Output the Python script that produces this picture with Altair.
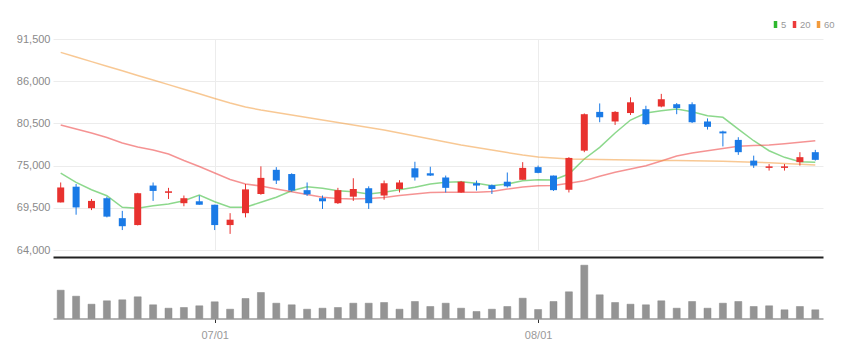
import altair as alt
import pandas as pd

# ---- data ----
idx = list(range(50))
opens = [70200, 72250, 69450, 70750, 68150, 67250, 72400, 71450, 70100, 70350,
         69900, 67250, 68800, 71300, 74450, 73900, 71800, 70750, 70100, 70950,
         72050, 71100, 71950, 74650, 74000, 73450, 71500, 72700, 72450, 72900,
         73150, 74800, 73700, 71850, 76950, 82000, 80750, 81850, 82350, 82700,
         83000, 83000, 80750, 79450, 78350, 75650, 74700, 74700, 75450, 76750]
closes = [72150, 69550, 70400, 68350, 67100, 71400, 71700, 71650, 70750, 69900,
          67250, 67950, 71900, 73400, 73050, 71750, 71250, 70350, 71800, 71950,
          70100, 72700, 72800, 73450, 73700, 72100, 72900, 72400, 71950, 72300,
          74700, 74050, 71800, 76000, 81700, 81300, 82000, 83250, 80400, 83650,
          82500, 80650, 80050, 79200, 76750, 75000, 74900, 74900, 76100, 75750]
highs = [72800, 72600, 70650, 70950, 69100, 71450, 72800, 72100, 71100, 71100,
         69900, 68800, 72600, 74900, 74800, 74000, 72800, 71100, 72100, 73350,
         72300, 73050, 73100, 75500, 74850, 73700, 73000, 73050, 72550, 74100,
         75450, 75000, 73700, 76100, 81800, 83100, 82100, 83900, 82800, 84350,
         83150, 83250, 81150, 79550, 78700, 76300, 75200, 75200, 76750, 77050]
lows = [70200, 68600, 69200, 68250, 66600, 67200, 70400, 70650, 69700, 69900,
        66600, 66100, 68250, 71200, 72600, 71600, 71050, 69350, 70000, 70400,
        69350, 70550, 71500, 73050, 73650, 71500, 71450, 71750, 71300, 72150,
        73150, 74000, 71700, 71500, 76750, 80650, 80300, 81600, 80300, 82600,
        81700, 80550, 79700, 77500, 76400, 74700, 74350, 74350, 75000, 75650]
ma5 = [74033, 72821, 71857, 71075, 69564, 69434, 69772, 69994, 70424, 71167,
       70293, 69564, 69564, 70215, 70867, 71727, 72248, 72040, 71727, 71596,
       71297, 71518, 71857, 72170, 72600, 72821, 72899, 72691, 72378, 72600,
       73030, 73160, 73121, 73903, 75857, 77382, 79245, 80939, 81851, 82151,
       82372, 82020, 81499, 81291, 79766, 78242, 76939, 76079, 75505, 75427]
ma20 = [80288, 79766, 79245, 78659, 77942, 77421, 77030, 76509, 75662, 74880,
        74033, 73186, 72600, 72339, 71948, 71596, 71232, 70867, 70710, 70645,
        70710, 70841, 71101, 71297, 71492, 71518, 71518, 71518, 71623, 71948,
        72209, 72378, 72404, 72691, 73030, 73603, 74124, 74554, 74984, 75597,
        76248, 76639, 76939, 77225, 77512, 77616, 77682, 77838, 78033, 78242]
ma60 = [89760, 89148, 88549, 87949, 87350, 86750, 86151, 85552, 84952, 84353,
        83753, 83154, 82633, 82242, 81916, 81590, 81265, 80939, 80613, 80288,
        79962, 79636, 79245, 78854, 78463, 78072, 77682, 77356, 77030, 76704,
        76379, 76118, 75988, 75857, 75818, 75792, 75766, 75727, 75701, 75675,
        75649, 75623, 75597, 75558, 75506, 75440, 75362, 75271, 75180, 75075]
volumes = [28300, 22300, 14300, 17700, 18700, 21700, 13700, 10300, 11000, 12700,
           16700, 9300, 20000, 26000, 15300, 13700, 9300, 10300, 11000, 15300,
           15300, 16000, 9300, 17000, 12000, 15300, 10300, 7000, 9300, 12000,
           20300, 9000, 17000, 26700, 53300, 23700, 16000, 14300, 13700, 17700,
           10300, 17000, 10300, 15300, 17000, 12000, 12700, 8700, 12000, 8700]
tick_idx = [10, 31]
tick_labels = ["07/01", "08/01"]
price_ticks = [64000, 69500, 75000, 80500, 86000, 91500]
ma_names = ["5", "20", "60"]
ma_colors = ["#2eb82e", "#ec3b3b", "#f29b3c"]

UP = "#e8322f"
DOWN = "#1a7ae6"
FONT = "Liberation Sans Narrow, Liberation Sans, Arial, sans-serif"

df = pd.DataFrame(dict(i=idx, open=opens, close=closes, high=highs, low=lows, vol=volumes))
ma_df = pd.concat([pd.DataFrame({"i": idx, "v": vals, "ma": name})
                   for name, vals in zip(ma_names, [ma5, ma20, ma60])], ignore_index=True)

label_expr = " : ".join(f"datum.value == {v} ? '{t}'" for v, t in zip(tick_idx, tick_labels)) + " : ''"

xscale = alt.Scale(domain=[-0.5, 49.5], nice=False, zero=False, padding=0)
yscale = alt.Scale(domain=[64000, 91500], nice=False, zero=False, padding=0)

x_price = alt.X("i:Q", scale=xscale,
                axis=alt.Axis(values=tick_idx, labels=False, ticks=False, grid=True,
                              gridColor="#ececec", gridWidth=1, domainColor="#222222",
                              domainWidth=2, offset=7, title=None))
price_axis = alt.Axis(values=price_ticks, format=",d", ticks=False, domain=False,
                      labelPadding=3, gridColor="#ececec", gridWidth=1, minExtent=45,
                      title=None, labelColor="#8a8a8a", labelFont=FONT, labelFontSize=11)

candle_color = alt.condition("datum.close >= datum.open", alt.value(UP), alt.value(DOWN))

lines = alt.Chart(ma_df).mark_line(strokeWidth=1.5, opacity=0.55).encode(
    x=x_price,
    y=alt.Y("v:Q", scale=yscale, axis=price_axis),
    color=alt.Color("ma:N", scale=alt.Scale(domain=ma_names, range=ma_colors),
                    legend=alt.Legend(orient="none", legendX=717, legendY=-20,
                                      direction="horizontal", title=None, gridAlign="none",
                                      symbolType="M0,-1L0,1", symbolSize=49,
                                      symbolStrokeWidth=3.5, symbolOpacity=1,
                                      labelFont=FONT, labelFontSize=9.5, labelColor="#999999",
                                      labelOffset=0, columnPadding=0, padding=0)),
)

wicks = alt.Chart(df).mark_rule(strokeWidth=1).encode(
    x=x_price, y=alt.Y("low:Q", scale=yscale, axis=price_axis), y2="high:Q",
    color=candle_color)
bodies = alt.Chart(df).mark_bar(size=7).encode(
    x=x_price, y=alt.Y("open:Q", scale=yscale, axis=price_axis), y2="close:Q",
    color=candle_color)

price = alt.layer(lines, wicks, bodies).properties(width=770, height=211)

volume = alt.Chart(df).mark_bar(size=7, color="#949494", stroke="#888888", strokeWidth=0.5).encode(
    x=alt.X("i:Q", scale=xscale,
            axis=alt.Axis(values=tick_idx, labelExpr=label_expr, grid=False, ticks=True,
                          tickColor="#333333", tickSize=4, domainColor="#9a9a9a",
                          domainWidth=1.5, labelColor="#999999", labelFont=FONT,
                          labelFontSize=11, labelPadding=7, title=None)),
    y=alt.Y("vol:Q", scale=alt.Scale(domain=[0, 57500], nice=False, padding=0), axis=None),
).properties(width=770, height=57.5)

chart = alt.vconcat(price, volume, spacing=11, bounds="flush").properties(
    padding={"left": 0, "top": 11, "right": 5, "bottom": 0}
).configure_view(stroke=None)

chart.save("out.html", embed_options={"renderer": "svg", "actions": False})
